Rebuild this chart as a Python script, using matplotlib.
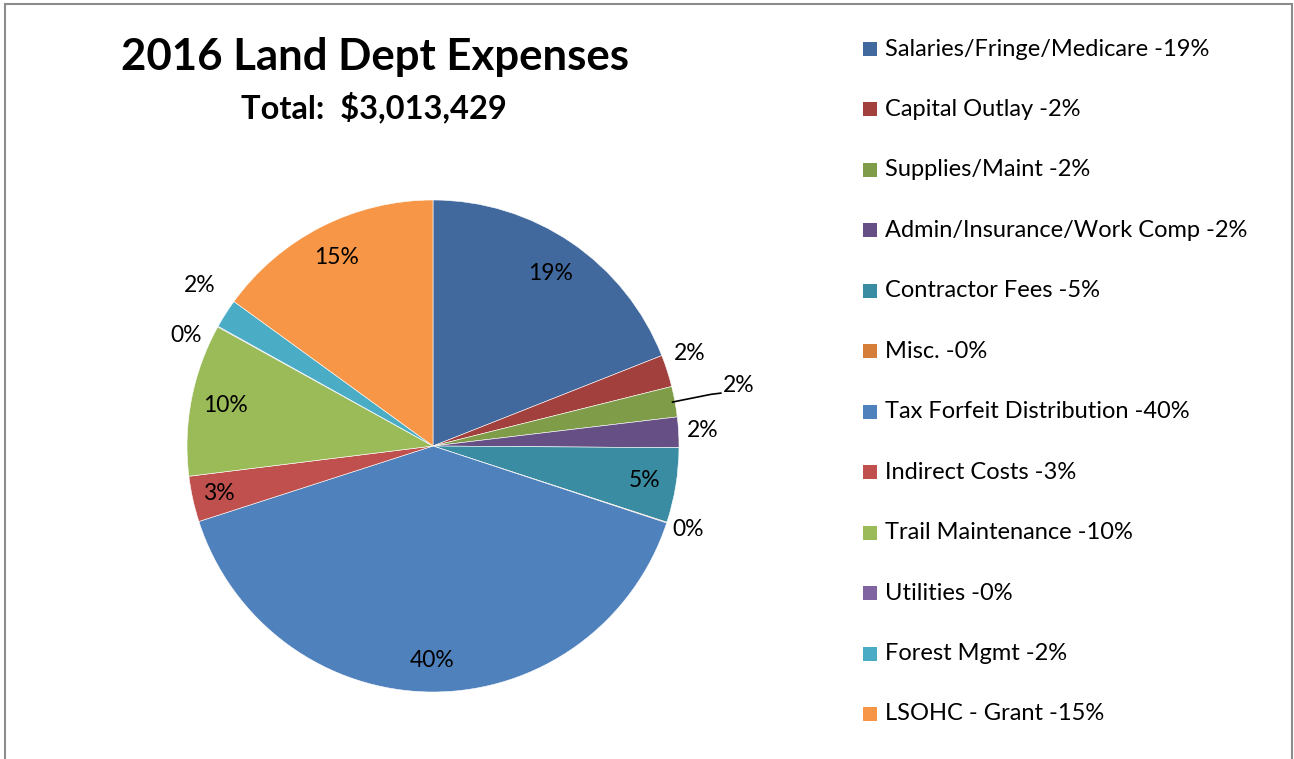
import matplotlib.pyplot as plt
import numpy as np
from matplotlib.patches import Rectangle

categories = ["Salaries/Fringe/Medicare", "Capital Outlay", "Supplies/Maint",
              "Admin/Insurance/Work Comp", "Contractor Fees", "Misc.",
              "Tax Forfeit Distribution", "Indirect Costs", "Trail Maintenance",
              "Utilities", "Forest Mgmt", "LSOHC - Grant"]
shares = [19.0, 2.1, 2.0, 2.0, 4.9, 0.05, 39.95, 3.0, 10.0, 0.05, 1.9, 15.0]
pct_labels = ["19%", "2%", "2%", "2%", "5%", "0%", "40%", "3%", "10%", "0%", "2%", "15%"]
colors = ["#41699E", "#A1403D", "#7F9C48", "#664F84", "#3A8CA3", "#D47E3A",
          "#4F81BD", "#C0504D", "#9BBB59", "#8064A2", "#4BACC6", "#F79646"]

plt.rcParams['font.family'] = ['Lato', 'DejaVu Sans']

W, H = 1294, 759
fig = plt.figure(figsize=(W / 100, H / 100), dpi=100)

# outer chart border
fig.patches.append(Rectangle((5 / W, -0.05), (1292 - 5) / W, (H - 4) / H + 0.05,
                             transform=fig.transFigure, fill=False,
                             edgecolor="#8c8c8c", linewidth=1.5))

cx, cy, r = 433, 446, 246
ax = fig.add_axes([(cx - r) / W, (H - cy - r) / H, 2 * r / W, 2 * r / H])
wedges, _ = ax.pie(shares, colors=colors, startangle=90, counterclock=False,
                   radius=1, wedgeprops=dict(edgecolor="white", linewidth=0.4))
ax.set_xlim(-1, 1)
ax.set_ylim(-1, 1)
ax.set_aspect("equal")
ax.axis("off")

# label distances (fraction of radius); small slices go outside
dist = [0.85, 1.11, None, 1.10, 0.87, 1.09, 0.87, 0.89, 0.86, 1.10, 1.15, 0.86]
nudge = [0, 2, 0, 0, 0, 0, 0, 0, 0, 5, -2, 0]
for i, w in enumerate(wedges):
    ang = np.deg2rad((w.theta1 + w.theta2) / 2 + nudge[i])
    if dist[i] is None:
        # leader line for the crowded slice
        x0, y0 = np.cos(ang) * 0.99, np.sin(ang) * 0.99
        ax.plot([x0, 1.13, 1.17], [y0, 0.21, 0.215], color="black", lw=1.2,
                clip_on=False)
        ax.text(1.18, 0.245, pct_labels[i], fontsize=16.5, ha="left", va="center")
        continue
    d = dist[i]
    ax.text(np.cos(ang) * d, np.sin(ang) * d, pct_labels[i], fontsize=16.5,
            ha="center", va="center")

fig.text(375 / W, 1 - 57 / H, "2016 Land Dept Expenses", fontsize=31.5,
         fontweight="bold", ha="center", va="center")
fig.text(374 / W, 1 - 107 / H, "Total:  $3,013,429", fontsize=23.5,
         fontweight="bold", ha="center", va="center")

# legend
for i, (cat, pl) in enumerate(zip(categories, pct_labels)):
    y = 49 + i * 60.45
    fig.patches.append(Rectangle((863 / W, 1 - (y + 7) / H), 14 / W, 14 / H,
                                 transform=fig.transFigure, facecolor=colors[i],
                                 edgecolor="none"))
    fig.text(885 / W, 1 - y / H, f"{cat} -{pl}", fontsize=17, ha="left",
             va="center")

fig.savefig("out.png", dpi=100)
